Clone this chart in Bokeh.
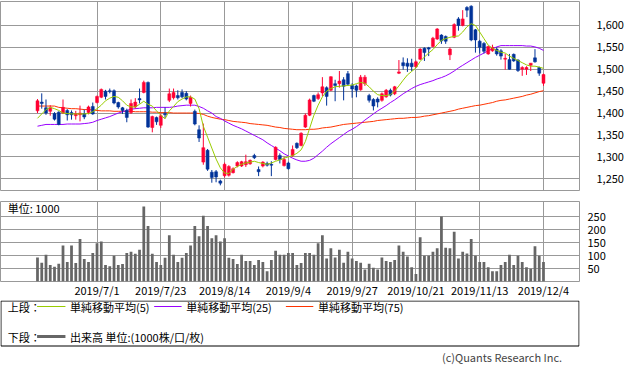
from bokeh.plotting import figure
from bokeh.layouts import column
from bokeh.models import Range1d, FixedTicker, NumeralTickFormatter, ColumnDataSource
from bokeh.core.properties import value
from bokeh.embed import file_html
from bokeh.resources import INLINE

FONT = "Noto Sans CJK JP"

# ---------------- data ----------------
tick_idx = [14, 29, 44, 59, 74, 89, 104, 119]
tick_labels = ["2019/7/1", "2019/7/23", "2019/8/14", "2019/9/4",
               "2019/9/27", "2019/10/21", "2019/11/13", "2019/12/4"]

opens = [1405, 1425, 1412, 1404, 1399, 1402, 1400, 1406, 1401, 1394,
         1396, 1399, 1401, 1415, 1424, 1436, 1450, 1451, 1451, 1424,
         1412, 1406, 1401, 1414, 1433, 1447, 1470, 1367, 1390, 1372,
         1399, 1429, 1435, 1440, 1447, 1445, 1422, 1404, 1362, 1288,
         1315, 1265, 1266, 1245, 1257, 1258, 1264, 1279, 1279, 1282,
         1284, 1303, 1271, 1279, 1285, 1283, 1294, 1303, 1280, 1286,
         1303, 1331, 1326, 1368, 1395, 1440, 1433, 1446, 1458, 1452,
         1467, 1467, 1476, 1490, 1463, 1462, 1453, 1467, 1440, 1431,
         1432, 1429, 1437, 1452, 1444, 1491, 1515, 1514, 1514, 1506,
         1523, 1548, 1549, 1552, 1569, 1578, 1575, 1533, 1573, 1615,
         1600, 1641, 1644, 1590, 1564, 1559, 1535, 1542, 1546, 1542,
         1523, 1522, 1534, 1521, 1500, 1500, 1509, 1526, 1504, 1468]

closes = [1428, 1422, 1400, 1412, 1386, 1374, 1413, 1396, 1396, 1399,
          1400, 1391, 1414, 1398, 1438, 1454, 1438, 1449, 1423, 1414,
          1406, 1390, 1422, 1425, 1430, 1470, 1368, 1392, 1380, 1394,
          1396, 1444, 1447, 1435, 1437, 1432, 1436, 1375, 1343, 1321,
          1272, 1253, 1254, 1240, 1283, 1278, 1273, 1287, 1289, 1289,
          1292, 1298, 1266, 1288, 1281, 1281, 1322, 1294, 1294, 1273,
          1317, 1321, 1354, 1395, 1430, 1427, 1442, 1460, 1438, 1483,
          1463, 1473, 1461, 1466, 1455, 1452, 1482, 1482, 1429, 1416,
          1425, 1444, 1452, 1441, 1460, 1494, 1508, 1507, 1506, 1517,
          1546, 1538, 1546, 1571, 1592, 1565, 1564, 1546, 1602, 1600,
          1615, 1635, 1567, 1567, 1550, 1541, 1552, 1550, 1535, 1530,
          1525, 1500, 1519, 1497, 1504, 1504, 1514, 1517, 1491, 1488]

highs = [1432, 1445, 1431, 1418, 1402, 1404, 1431, 1409, 1406, 1405,
         1417, 1408, 1417, 1424, 1440, 1456, 1453, 1456, 1454, 1426,
         1414, 1410, 1431, 1434, 1456, 1474, 1472, 1394, 1392, 1399,
         1413, 1456, 1456, 1452, 1454, 1450, 1440, 1408, 1372, 1376,
         1318, 1270, 1270, 1248, 1287, 1281, 1276, 1290, 1291, 1305,
         1294, 1307, 1278, 1290, 1289, 1290, 1324, 1308, 1300, 1289,
         1326, 1333, 1356, 1399, 1433, 1442, 1447, 1482, 1461, 1484,
         1476, 1496, 1482, 1496, 1468, 1465, 1487, 1487, 1444, 1434,
         1436, 1447, 1455, 1456, 1462, 1521, 1527, 1525, 1524, 1520,
         1548, 1550, 1551, 1574, 1594, 1580, 1577, 1550, 1605, 1619,
         1635, 1644, 1646, 1592, 1567, 1562, 1554, 1556, 1550, 1546,
         1535, 1535, 1536, 1523, 1507, 1507, 1514, 1546, 1506, 1490]

lows = [1400, 1410, 1396, 1394, 1383, 1372, 1398, 1383, 1385, 1385,
        1381, 1386, 1397, 1396, 1422, 1434, 1431, 1445, 1420, 1410,
        1398, 1379, 1398, 1410, 1422, 1445, 1366, 1356, 1373, 1366,
        1388, 1425, 1431, 1431, 1434, 1429, 1415, 1372, 1334, 1282,
        1268, 1241, 1242, 1235, 1253, 1255, 1262, 1276, 1277, 1277,
        1282, 1295, 1256, 1276, 1278, 1256, 1292, 1285, 1278, 1271,
        1300, 1318, 1324, 1366, 1393, 1425, 1430, 1438, 1417, 1450,
        1427, 1458, 1429, 1462, 1435, 1436, 1451, 1462, 1424, 1406,
        1413, 1426, 1435, 1438, 1441, 1489, 1499, 1494, 1496, 1503,
        1521, 1519, 1530, 1550, 1567, 1558, 1558, 1521, 1571, 1588,
        1598, 1619, 1564, 1538, 1536, 1536, 1533, 1540, 1531, 1522,
        1499, 1499, 1517, 1494, 1485, 1487, 1496, 1515, 1485, 1462]

ma5 = [1388, 1398, 1408, 1413, 1410, 1406, 1400, 1399, 1398, 1398,
       1398, 1398, 1399, 1403, 1410, 1418, 1428, 1434, 1438, 1436,
       1428, 1418, 1414, 1414, 1420, 1427, 1420, 1416, 1405, 1395,
       1387, 1405, 1415, 1426, 1432, 1437, 1437, 1432, 1410, 1370,
       1345, 1320, 1295, 1275, 1263, 1262, 1272, 1278, 1283, 1286,
       1288, 1290, 1287, 1285, 1283, 1286, 1290, 1293, 1297, 1300,
       1303, 1308, 1316, 1335, 1365, 1395, 1418, 1437, 1450, 1456,
       1460, 1461, 1462, 1463, 1464, 1467, 1470, 1468, 1460, 1450,
       1442, 1440, 1440, 1442, 1450, 1462, 1475, 1487, 1495, 1503,
       1518, 1528, 1537, 1545, 1556, 1566, 1570, 1573, 1575, 1576,
       1585, 1597, 1604, 1600, 1585, 1570, 1555, 1548, 1543, 1539,
       1537, 1530, 1525, 1520, 1515, 1510, 1507, 1507, 1505, 1502]

ma25 = [1370, 1372, 1374, 1374, 1374, 1374, 1374, 1375, 1375, 1375,
        1375, 1376, 1377, 1379, 1383, 1386, 1389, 1392, 1396, 1400,
        1403, 1406, 1409, 1410, 1411, 1412, 1412, 1412, 1413, 1413,
        1413, 1413, 1414, 1416, 1417, 1418, 1418, 1418, 1415, 1411,
        1405, 1400, 1392, 1388, 1382, 1377, 1372, 1368, 1364, 1359,
        1354, 1349, 1344, 1339, 1332, 1326, 1320, 1314, 1307, 1302,
        1297, 1293, 1290, 1290, 1292, 1297, 1305, 1313, 1322, 1330,
        1337, 1344, 1351, 1358, 1363, 1369, 1376, 1384, 1391, 1398,
        1405, 1411, 1417, 1424, 1430, 1437, 1444, 1450, 1456, 1461,
        1465, 1468, 1471, 1474, 1478, 1481, 1485, 1490, 1496, 1503,
        1509, 1515, 1521, 1527, 1532, 1537, 1542, 1547, 1551, 1554,
        1554, 1554, 1554, 1554, 1554, 1553, 1553, 1551, 1548, 1543]

ma75 = [1416, 1416, 1416, 1416, 1416, 1413, 1412, 1411, 1410, 1410,
        1409, 1408, 1408, 1407, 1406, 1405, 1405, 1405, 1404, 1404,
        1404, 1404, 1404, 1403, 1403, 1403, 1403, 1402, 1402, 1401,
        1401, 1401, 1400, 1400, 1400, 1400, 1400, 1400, 1399, 1397,
        1393, 1390, 1388, 1386, 1385, 1383, 1381, 1380, 1379, 1378,
        1376, 1375, 1374, 1373, 1372, 1370, 1368, 1367, 1365, 1364,
        1363, 1362, 1362, 1362, 1363, 1363, 1364, 1366, 1367, 1368,
        1370, 1372, 1374, 1375, 1376, 1377, 1378, 1379, 1380, 1381,
        1383, 1384, 1385, 1386, 1387, 1388, 1388, 1389, 1390, 1390,
        1391, 1393, 1394, 1396, 1398, 1400, 1402, 1404, 1406, 1409,
        1411, 1413, 1415, 1417, 1418, 1420, 1422, 1424, 1427, 1429,
        1430, 1432, 1434, 1436, 1438, 1441, 1443, 1446, 1449, 1451]

volume = [92, 72, 103, 63, 57, 68, 138, 75, 138, 71,
          163, 87, 75, 110, 147, 154, 63, 59, 99, 63,
          67, 110, 114, 107, 122, 288, 213, 107, 75, 63,
          91, 178, 103, 75, 91, 110, 138, 213, 174, 253,
          213, 166, 178, 154, 166, 91, 87, 67, 103, 79,
          79, 63, 83, 75, 39, 83, 118, 103, 103, 110,
          110, 63, 71, 110, 110, 103, 147, 178, 88, 128,
          92, 122, 72, 114, 88, 79, 72, 46, 68, 53,
          46, 92, 79, 75, 83, 138, 114, 96, 55, 29,
          170, 99, 99, 114, 128, 250, 130, 128, 191, 88,
          114, 108, 163, 99, 75, 75, 55, 39, 39, 63,
          75, 103, 63, 99, 75, 55, 49, 136, 99, 75]

price_ticks = [1250, 1300, 1350, 1400, 1450, 1500, 1550, 1600]
volume_ticks = [50, 100, 150, 200, 250]

# ---------------- styles ----------------
UP = "#ff0033"
DOWN = "#003399"
C_MA5 = "#99cc00"
C_MA25 = "#9900ff"
C_MA75 = "#ff3300"
C_VOL = "#666666"
GRID = "#999999"

n = len(closes)
xs = list(range(n))
cols = [UP if c >= o else DOWN for o, c in zip(opens, closes)]
src = ColumnDataSource(dict(
    x=xs, high=highs, low=lows,
    top=[max(o, c) for o, c in zip(opens, closes)],
    bottom=[min(o, c) for o, c in zip(opens, closes)],
    color=cols, volume=volume, ma5=ma5, ma25=ma25, ma75=ma75))

XMIN, XMAX = -8.70, 127.47

# ---------------- price panel ----------------
p1 = figure(frame_width=579, frame_height=189,
            x_range=Range1d(XMIN, XMAX), y_range=Range1d(1223.2, 1654.7),
            y_axis_location="right", toolbar_location=None,
            output_backend="svg", min_border_left=0, min_border_right=54,
            min_border_top=1, min_border_bottom=1)
p1.xaxis.visible = False
p1.xgrid.ticker = FixedTicker(ticks=tick_idx)
p1.yaxis.ticker = FixedTicker(ticks=price_ticks)
p1.ygrid.ticker = FixedTicker(ticks=price_ticks)
p1.yaxis.formatter = NumeralTickFormatter(format="0,0")
for g in (p1.xgrid, p1.ygrid):
    g.grid_line_color = GRID
    g.grid_line_width = 1
p1.outline_line_color = GRID
p1.yaxis.axis_line_color = None
p1.yaxis.major_tick_line_color = None
p1.yaxis.minor_tick_line_color = None
p1.yaxis.major_label_standoff = 11
p1.yaxis.major_label_text_font = FONT
p1.yaxis.major_label_text_font_size = "11px"
p1.yaxis.major_label_text_color = "#000000"

p1.line("x", "ma75", source=src, color=C_MA75, line_width=1)
p1.line("x", "ma25", source=src, color=C_MA25, line_width=1)
p1.segment(x0="x", y0="low", x1="x", y1="high", source=src, color="color", line_width=1)
p1.vbar(x="x", top="top", bottom="bottom", width=0.7, source=src,
        fill_color="color", line_color="color", line_width=0.5)
p1.line("x", "ma5", source=src, color=C_MA5, line_width=1)

# ---------------- volume panel ----------------
p2 = figure(frame_width=579, frame_height=80,
            x_range=p1.x_range, y_range=Range1d(0, 307.7),
            y_axis_location="right", toolbar_location=None,
            output_backend="svg", min_border_left=0, min_border_right=54,
            min_border_top=10, min_border_bottom=14)
p2.xaxis.ticker = FixedTicker(ticks=tick_idx)
p2.xaxis.major_label_overrides = {t: lab for t, lab in zip(tick_idx, tick_labels)}
p2.yaxis.ticker = FixedTicker(ticks=volume_ticks)
p2.ygrid.ticker = FixedTicker(ticks=volume_ticks)
for g in (p2.xgrid, p2.ygrid):
    g.grid_line_color = GRID
    g.grid_line_width = 1
p2.outline_line_color = GRID
for ax in (p2.xaxis, p2.yaxis):
    ax.axis_line_color = None
    ax.major_tick_line_color = None
    ax.minor_tick_line_color = None
    ax.major_tick_out = 0
    ax.major_tick_in = 0
    ax.axis_label_standoff = 0
    ax.major_label_text_font = FONT
    ax.major_label_text_font_size = "11px"
    ax.major_label_text_color = "#000000"
p2.yaxis.major_label_standoff = 8
p2.xaxis.major_label_standoff = 0

p2.vbar(x="x", top="volume", width=0.65, source=src,
        fill_color=C_VOL, line_color=None)
p2.text(x=[-7.0], y=[281], text=["単位: 1000"], text_font=value(FONT),
        text_font_size="11px", text_baseline="middle", text_align="left",
        text_color="#000000")

# ---------------- legend panel ----------------
p3 = figure(width=633, height=72, x_range=Range1d(0, 633), y_range=Range1d(72, 0),
            x_axis_location=None, y_axis_location=None, toolbar_location=None,
            output_backend="svg", min_border=0)
p3.outline_line_color = None
p3.xgrid.visible = False
p3.ygrid.visible = False
p3.quad(left=[0.5], right=[632.5], top=[0.5], bottom=[45.5],
        fill_color=None, line_color="#000000", line_width=1)

row1, row2 = 6, 36
p3.segment(x0=[40, 168, 312], y0=[row1] * 3, x1=[71, 198, 342], y1=[row1] * 3,
           color=[C_MA5, C_MA25, C_MA75], line_width=1)
p3.segment(x0=[40], y0=[row2], x1=[71], y1=[row2], color=C_VOL, line_width=3)
p3.text(x=[8, 76, 203, 347, 8, 76], y=[row1, row1, row1, row1, row2, row2],
        text=["上段：", "単純移動平均(5)", "単純移動平均(25)", "単純移動平均(75)",
              "下段：", "出来高 単位:(1000株/口/枚)"],
        text_font=value(FONT), text_font_size="11px", text_baseline="middle",
        text_align="left", text_color="#000000")
p3.text(x=[614], y=[56], text=["(c)Quants Research Inc."], text_font=value(FONT),
        text_font_size="11px", text_baseline="middle", text_align="right",
        text_color="#444444")

layout = column(p1, p2, p3, spacing=0)
open("out.html", "w").write(file_html(layout, INLINE))
